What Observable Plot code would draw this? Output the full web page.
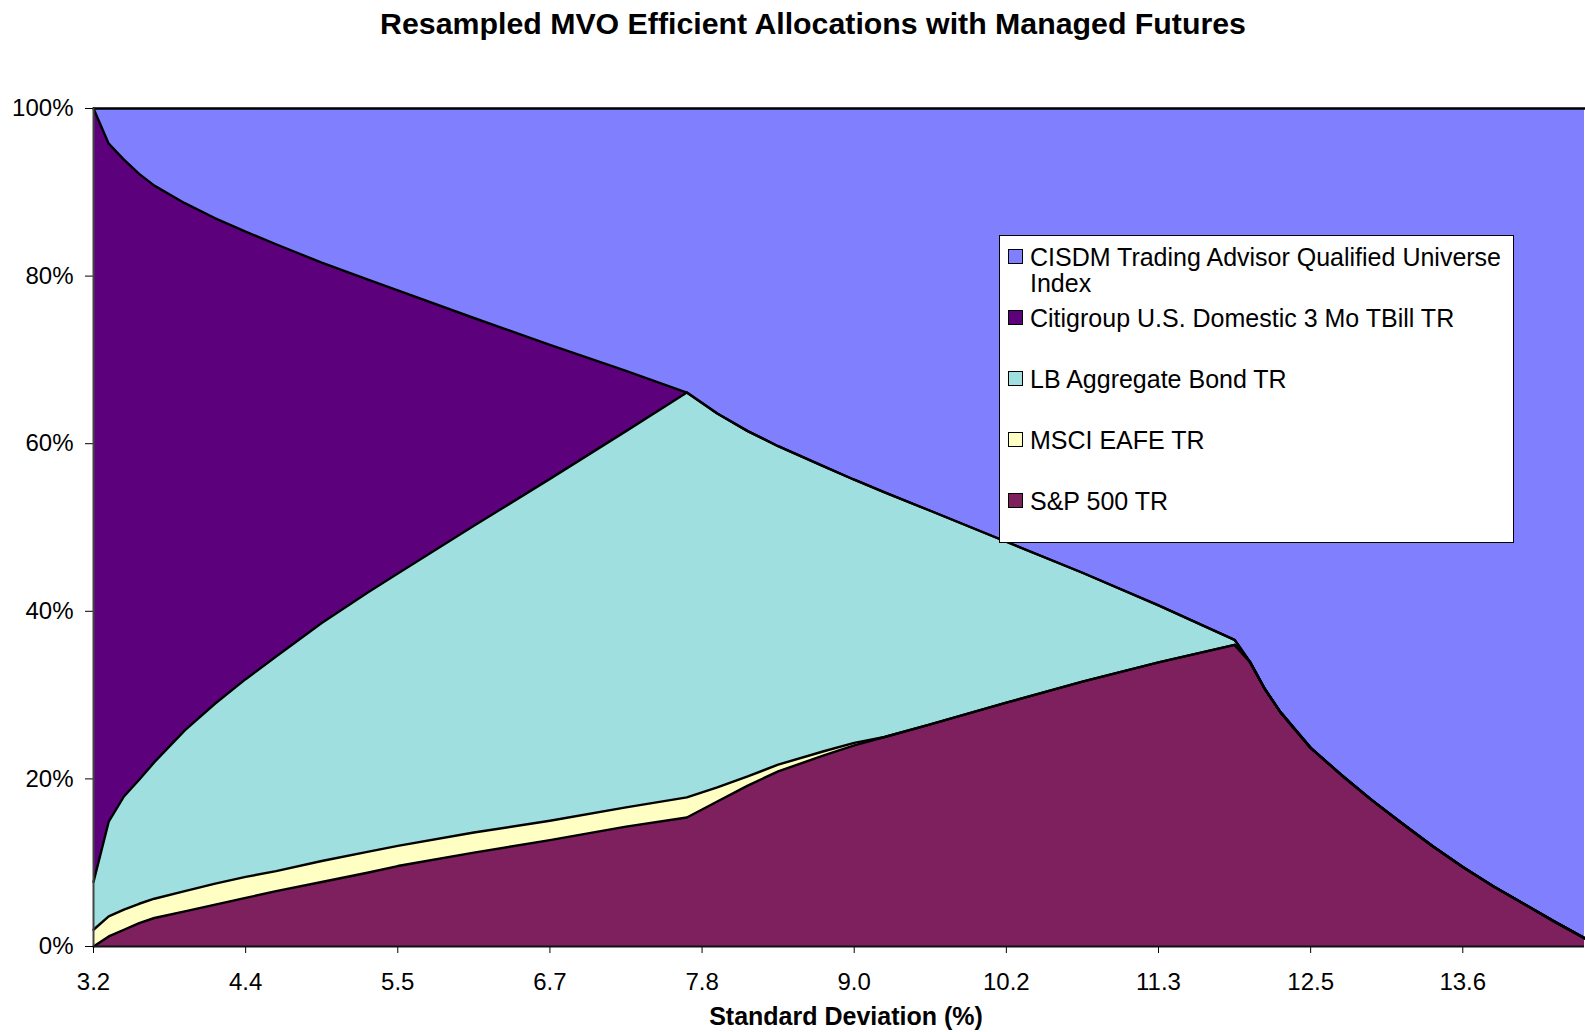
<!DOCTYPE html>
<html>
<head>
<meta charset="utf-8">
<script src="https://cdn.jsdelivr.net/npm/d3@7"></script>
<script src="https://cdn.jsdelivr.net/npm/@observablehq/plot@0.6"></script>
<style>
  html, body { margin: 0; padding: 0; background: #fff; overflow: hidden; }
  #wrap { position: relative; width: 1585px; height: 1032px; font-family: "Liberation Sans", Arial, sans-serif; }
  #title { height: 48px; position: relative; }
  #title span { position: absolute; left: 813px; top: 24px; transform: translate(-50%, -50%); white-space: nowrap; font-weight: bold; font-size: 30.3px; color: #000; }
  #legend { position: absolute; left: 999px; top: 235px; width: 515px; height: 308px; background: #fff; border: 1.5px solid #000; box-sizing: border-box; }
  .item { position: absolute; left: 8px; font-size: 25px; line-height: 26px; color: #000; }
  .item i { position: absolute; left: 0; top: 5px; width: 13px; height: 13px; border: 1.5px solid #000; }
  .item span { display: block; margin-left: 22px; }
</style>
</head>
<body>
<div id="wrap">
  <div id="title"><span>Resampled MVO Efficient Allocations with Managed Futures</span></div>
  <div id="chart"></div>
  <div id="legend"></div>
</div>
<script>
// Portfolio number along the resampled efficient frontier (Excel category index)
const portfolio = [0,1,2,3,4,6,8,10,12,15,18,20,25,30,35,39,41,43,45,48,50,52,55,60,65,70,75,76,77,78,80,82,84,86,88,90,92,94,96,98];
// Allocation weights (%)
const sp500 = [0,1.2,2.0,2.8,3.4,4.2,5.0,5.8,6.6,7.7,8.8,9.6,11.2,12.7,14.3,15.4,17.3,19.2,20.9,22.8,24.0,25.0,26.5,29.1,31.6,33.9,36.0,34.0,30.7,28.0,23.7,20.5,17.5,14.7,12.0,9.5,7.2,5.1,3.0,1.0];
const eafe  = [2.0,2.4,2.4,2.3,2.3,2.4,2.5,2.5,2.4,2.5,2.5,2.4,2.4,2.3,2.3,2.4,1.7,1.1,0.8,0.5,0.3,0,0,0,0,0,0,0,0,0,0,0,0,0,0,0,0,0,0,0];
const bond  = [5.7,11.3,13.5,14.8,16.3,19.2,21.5,23.6,25.6,28.4,30.9,32.5,36.6,40.8,44.9,48.3,44.6,41.2,38.0,34.0,31.4,29.2,25.5,19.2,13.0,6.8,0.6,0,0,0,0,0,0,0,0,0,0,0,0,0];
const tbill = [92.3,80.9,76.0,72.3,68.8,62.9,57.9,53.4,49.2,43.0,37.4,33.8,24.8,16.0,7.2,0,0,0,0,0,0,0,0,0,0,0,0,0,0,0,0,0,0,0,0,0,0,0,0,0];
const cisdm = [0,4.2,6.1,7.8,9.2,11.3,13.1,14.7,16.2,18.4,20.4,21.7,25.0,28.2,31.3,33.9,36.4,38.5,40.3,42.7,44.3,45.8,48.0,51.7,55.4,59.3,63.4,66.0,69.3,72.0,76.3,79.5,82.5,85.3,88.0,90.5,92.8,94.9,97.0,99.0];

const seriesNames  = ["S&P 500 TR","MSCI EAFE TR","LB Aggregate Bond TR","Citigroup U.S. Domestic 3 Mo TBill TR","CISDM Trading Advisor Qualified Universe Index"];
const seriesValues = [sp500, eafe, bond, tbill, cisdm];
const seriesColors = ["#7E1F5E","#FFFFC4","#A0DFE0","#5C007C","#8080FF"];
const legendOrder  = ["CISDM Trading Advisor Qualified Universe Index","Citigroup U.S. Domestic 3 Mo TBill TR","LB Aggregate Bond TR","MSCI EAFE TR","S&P 500 TR"];

const xTickPositions = [0,10,20,30,40,50,60,70,80,90];
const xTickLabels = ["3.2","4.4","5.5","6.7","7.8","9.0","10.2","11.3","12.5","13.6"];
const yTicks = [0,20,40,60,80,100];

const data = [];
seriesNames.forEach((name, s) => {
  portfolio.forEach((p, i) => data.push({portfolio: p, series: name, weight: seriesValues[s][i]}));
});

const chart = Plot.plot({
  width: 1585,
  height: 984,
  marginTop: 60,
  marginBottom: 86,
  marginLeft: 93,
  marginRight: 1,
  style: {fontFamily: "'Liberation Sans', Arial, sans-serif", fontSize: "24px", color: "#000", background: "#fff"},
  x: {domain: [0, 98], ticks: xTickPositions, tickFormat: d => xTickLabels[xTickPositions.indexOf(d)], tickSize: 7, tickPadding: 19, label: null},
  y: {domain: [0, 100], ticks: yTicks, tickFormat: d => d + "%", tickSize: 8, tickPadding: 12, label: null},
  color: {domain: seriesNames, range: seriesColors},
  marks: [
    Plot.areaY(data, {x: "portfolio", y: "weight", z: "series", fill: "series", order: seriesNames}),
    Plot.lineY(data, Plot.stackY2({x: "portfolio", y: "weight", z: "series", order: seriesNames, stroke: "#000", strokeWidth: 2.4, strokeLinejoin: "round"})),
    Plot.ruleX([0], {stroke: "#444", strokeWidth: 2}),
    Plot.ruleY([0], {stroke: "#111", strokeWidth: 2}),
    Plot.text(["Standard Deviation (%)"], {frameAnchor: "bottom", dy: 78, dx: 7, fontWeight: "bold", fontSize: 25, fill: "#000"})
  ]
});
document.getElementById("chart").appendChild(chart);

const legend = document.getElementById("legend");
const legendTops = [8, 69, 130, 191, 252];
legendOrder.forEach((name, k) => {
  const item = document.createElement("div");
  item.className = "item";
  item.style.top = legendTops[k] + "px";
  item.style.width = "504px";
  const sw = document.createElement("i");
  sw.style.background = seriesColors[seriesNames.indexOf(name)];
  const label = document.createElement("span");
  label.textContent = name;
  item.appendChild(sw);
  item.appendChild(label);
  legend.appendChild(item);
});
</script>
</body>
</html>
